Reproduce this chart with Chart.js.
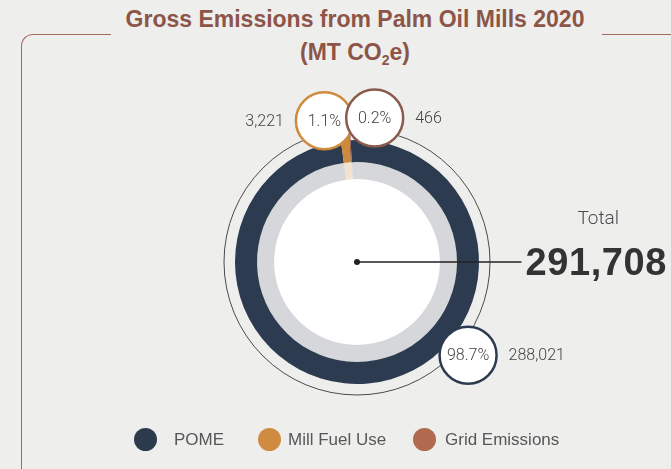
<!DOCTYPE html>
<html>
<head>
<meta charset="utf-8">
<script src="https://cdn.jsdelivr.net/npm/chart.js@4"></script>
<style>
  html, body { margin:0; padding:0; }
  body { width:671px; height:469px; background:#eeeeed; position:relative; overflow:hidden; font-family:'Liberation Sans', Arial, sans-serif; }
  .title { position:absolute; left:0; top:3px; width:710px; text-align:center; color:#8c5548; font-weight:bold; font-size:23px; line-height:33px; }
  .title sub { font-size:14px; vertical-align:-5px; line-height:0; }
  .frame-l { position:absolute; left:21px; top:34px; width:89px; height:500px; border-top:1.5px solid #a06a5e; border-left:1.5px solid #a06a5e; border-top-left-radius:12px; }
  .frame-r { position:absolute; left:602px; top:34px; width:80px; border-top:1.5px solid #a06a5e; }
  #chart { position:absolute; left:0; top:0; }
  .legend .dot { position:absolute; top:428px; width:23px; height:23px; margin-left:-11.5px; border-radius:50%; }
  .legend .txt { position:absolute; top:430px; font-size:17px; line-height:20px; color:#575757; }
</style>
</head>
<body>
<div class="frame-l"></div>
<div class="frame-r"></div>
<div class="title">Gross Emissions from Palm Oil Mills 2020<br>(MT CO<sub>2</sub>e)</div>
<canvas id="chart" width="671" height="469"></canvas>
<div class="legend" id="legend"></div>
<script>
// emissions by source, MT CO2e
const sources = ['POME', 'Mill Fuel Use', 'Grid Emissions'];
const emissions = [288021, 3221, 466];

const ringColors = ['#2c3b4f', '#cd8a3c', '#8b5a4a'];
const innerColors = ['#d6d7db', '#f4e2d0', '#ebe2de'];
const legendColors = ['#2c3a4e', '#cf8b40', '#b06a50'];
const bubbleBorder = ['#2c3b4f', '#cf8b3c', '#8a5a4c'];
// where each percentage bubble sits, degrees clockwise from 12 o'clock
const bubbleAngle = [130, -13, 7];
const valueSide = ['right', 'left', 'right'];
// legend dot centres and text starts
const legendDotX = [145, 269, 424];
const legendTextX = [174, 288, 445];

const total = emissions.reduce((a, b) => a + b, 0);
const fmt = n => n.toLocaleString('en-US');
const labelFont = '300 16px Roboto, "Liberation Sans", sans-serif';

const callouts = {
  id: 'callouts',
  beforeDatasetsDraw(chart) {
    const ctx = chart.ctx;
    const a = chart.getDatasetMeta(0).data[0];
    const inner = chart.getDatasetMeta(1).data[0];
    ctx.save();
    // thin outline around the ring
    ctx.beginPath();
    ctx.arc(a.x, a.y, a.outerRadius + 11, 0, Math.PI * 2);
    ctx.strokeStyle = '#4a4a4a';
    ctx.lineWidth = 1;
    ctx.stroke();
    // white hub
    ctx.beginPath();
    ctx.arc(a.x, a.y, inner.innerRadius, 0, Math.PI * 2);
    ctx.fillStyle = '#ffffff';
    ctx.fill();
    ctx.restore();
  },
  afterDatasetsDraw(chart) {
    const ctx = chart.ctx;
    const arcs = chart.getDatasetMeta(0).data;
    const cx = arcs[0].x, cy = arcs[0].y, R = arcs[0].outerRadius;
    ctx.save();

    // small slices poke out of the ring towards their bubbles
    arcs.forEach((arc, i) => {
      if (i === 0) return;
      ctx.beginPath();
      ctx.arc(cx, cy, R + 12, arc.startAngle, arc.endAngle);
      ctx.arc(cx, cy, R - 1, arc.endAngle, arc.startAngle, true);
      ctx.closePath();
      ctx.fillStyle = ringColors[i];
      ctx.fill();
    });

    // centre dot and leader to the total
    ctx.font = 'bold 38px "Liberation Sans", Arial, sans-serif';
    const totalText = fmt(total);
    const tw = ctx.measureText(totalText).width + totalText.length * 0.6;
    const tx = chart.width - 4 - tw;
    ctx.beginPath();
    ctx.moveTo(cx, cy);
    ctx.lineTo(tx - 4, cy);
    ctx.strokeStyle = '#222';
    ctx.lineWidth = 1.5;
    ctx.stroke();
    ctx.beginPath();
    ctx.arc(cx, cy, 3, 0, Math.PI * 2);
    ctx.fillStyle = '#222';
    ctx.fill();

    ctx.fillStyle = '#333';
    ctx.textBaseline = 'alphabetic';
    ctx.textAlign = 'left';
    if ('letterSpacing' in ctx) ctx.letterSpacing = '0.6px';
    ctx.fillText(totalText, tx, cy + 13);
    if ('letterSpacing' in ctx) ctx.letterSpacing = '0px';
    ctx.font = '300 19px Roboto, "Liberation Sans", sans-serif';
    ctx.fillStyle = '#4a4a4a';
    ctx.textAlign = 'center';
    ctx.fillText('Total', tx + tw / 2 + 2, cy - 38);

    // percentage bubbles with values beside them
    const br = 28.5;
    arcs.forEach((arc, i) => {
      const ang = (bubbleAngle[i] - 90) * Math.PI / 180;
      const bx = cx + Math.cos(ang) * (R + 23);
      const by = cy + Math.sin(ang) * (R + 23);
      ctx.beginPath();
      ctx.arc(bx, by, br, 0, Math.PI * 2);
      ctx.fillStyle = '#ffffff';
      ctx.fill();
      ctx.lineWidth = 2.5;
      ctx.strokeStyle = bubbleBorder[i];
      ctx.stroke();

      ctx.font = labelFont;
      ctx.fillStyle = '#444';
      ctx.textBaseline = 'middle';
      ctx.textAlign = 'center';
      ctx.fillText((emissions[i] / total * 100).toFixed(1) + '%', bx, by + 1);
      if (valueSide[i] === 'left') {
        ctx.textAlign = 'right';
        ctx.fillText(fmt(emissions[i]), bx - br - 12, by + 1);
      } else {
        ctx.textAlign = 'left';
        ctx.fillText(fmt(emissions[i]), bx + br + 12, by + 1);
      }
    });
    ctx.restore();
  }
};

new Chart(document.getElementById('chart'), {
  type: 'doughnut',
  data: {
    labels: sources,
    datasets: [
      { data: emissions, backgroundColor: ringColors, borderWidth: 0, weight: 22 },
      { data: emissions, backgroundColor: innerColors, borderWidth: 0, weight: 17 }
    ]
  },
  options: {
    responsive: false,
    animation: false,
    devicePixelRatio: 1,
    rotation: -3,
    cutout: '68%',
    hoverOffset: 0,
    layout: { padding: { top: 140, bottom: 85, left: 235, right: 192 } },
    plugins: { legend: { display: false }, tooltip: { enabled: false } }
  },
  plugins: [callouts]
});

// legend row under the chart
const legend = document.getElementById('legend');
sources.forEach((s, i) => {
  const dot = document.createElement('span');
  dot.className = 'dot';
  dot.style.background = legendColors[i];
  dot.style.left = legendDotX[i] + 'px';
  const txt = document.createElement('span');
  txt.className = 'txt';
  txt.style.left = legendTextX[i] + 'px';
  txt.textContent = s;
  legend.appendChild(dot);
  legend.appendChild(txt);
});
</script>
</body>
</html>
